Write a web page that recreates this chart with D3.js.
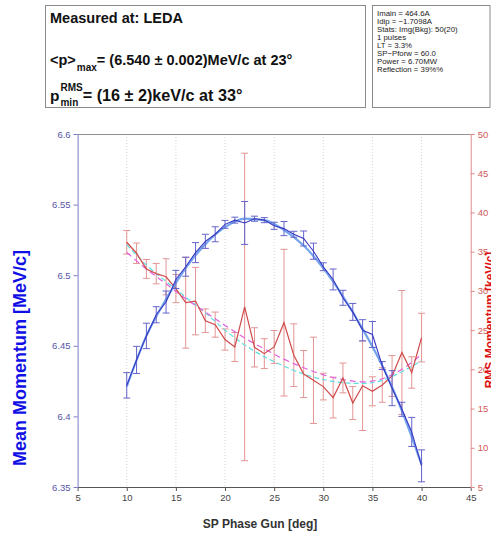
<!DOCTYPE html>
<html>
<head>
<meta charset="utf-8">
<script src="https://cdn.jsdelivr.net/npm/d3@7"></script>
<style>
  body { margin: 0; background: #fff; }
  svg { display: block; }
  text { font-family: "Liberation Sans", Arial, Helvetica, sans-serif; }
</style>
</head>
<body>
<svg id="chart" width="491" height="539"></svg>
<script>
// SP phase gun scan (deg)
const phase = [10, 11, 12, 13, 14, 15, 16, 17, 18, 19, 20, 21, 22, 23, 24, 25,
               26, 27, 28, 29, 30, 31, 32, 33, 34, 35, 36, 37, 38, 39, 40];

// Mean momentum [MeV/c] and its error
const meanP = [6.422, 6.440, 6.457, 6.472, 6.481, 6.497, 6.506, 6.516, 6.524, 6.529, 6.536,
               6.539, 6.537, 6.540, 6.539, 6.535, 6.533, 6.529, 6.526, 6.517, 6.506, 6.497,
               6.484, 6.474, 6.461, 6.458, 6.436, 6.420, 6.405, 6.389, 6.365];
const meanErr = [0.0090, 0.0096, 0.0090, 0.0057, 0.0078, 0.0064, 0.0067, 0.0071, 0.0050, 0.0053, 0.0028,
                 0.0021, 0.0152, 0.0018, 0.0018, 0.0025, 0.0050, 0.0021, 0.0053, 0.0057, 0.0028, 0.0074,
                 0.0053, 0.0060, 0.0075, 0.0092, 0.0028, 0.0124, 0.0050, 0.0103, 0.0113];

// RMS momentum [keV/c] and its error
const rmsP = [36.2, 34.8, 32.8, 32.2, 31.8, 30.3, 28.5, 28.7, 26.2, 25.7, 23.8,
              22.85, 27.95, 22.8, 22.0, 22.85, 25.95, 21.8, 19.4, 18.6, 17.8, 16.4,
              18.9, 15.7, 17.9, 17.2, 18.0, 19.15, 22.15, 19.6, 24.05];
const rmsErr = [1.5, 1.3, 1.2, 1.3, 2.3, 1.8, 5.8, 4.3, 1.5, 1.6, 1.35,
                1.85, 19.6, 2.5, 1.9, 2.1, 9.35, 4.0, 3.0, 5.5, 1.7, 2.6,
                1.9, 2.1, 5.7, 1.85, 2.2, 2.6, 7.9, 2.0, 3.1];

// Fitted curves
const fitPhase = [10, 12, 14, 16, 18, 20, 22, 24, 26, 28, 30, 32, 34, 36, 38, 40];
const meanFit = [6.421, 6.457, 6.483, 6.505, 6.522, 6.534, 6.540, 6.539,
                 6.532, 6.521, 6.505, 6.485, 6.462, 6.436, 6.404, 6.366];
const rmsFitA = [34.9, 32.8, 30.9, 29.0, 27.3, 25.6, 24.0, 22.6,
                 21.3, 20.2, 19.3, 18.7, 18.4, 18.8, 20.0, 21.9];
const rmsFitB = [35.9, 33.3, 31.2, 29.2, 27.2, 25.0, 23.1, 21.6,
                 20.4, 19.4, 18.7, 18.3, 18.2, 18.6, 19.7, 21.1];

// Axis ticks
const xTicks = [5, 10, 15, 20, 25, 30, 35, 40, 45];
const yLTicks = [6.35, 6.4, 6.45, 6.5, 6.55, 6.6];
const yRTicks = [5, 10, 15, 20, 25, 30, 35, 40, 45, 50];

// Info panel lines
const infoLines = ["Imain = 464.6A", "Idip = \u22121.7098A", "Stats: Img(Bkg): 50(20)", "1 pulses",
                   "LT = 3.3%", "SP\u2212Pforw = 60.0", "Power = 6.70MW", "Reflection = 39%%"];

const svg = d3.select("#chart");
const L = 77.6, R = 470.7, T = 134, B = 487;

const x = d3.scaleLinear().domain([5, 45]).range([L, R]);
const yL = d3.scaleLinear().domain([6.35, 6.6]).range([B, T]);
const yR = d3.scaleLinear().domain([5, 50]).range([B, T]);

// ---- header boxes ----
svg.append("rect").attr("x", 45.5).attr("y", 5.5).attr("width", 320).attr("height", 102)
  .attr("fill", "#fff").attr("stroke", "#8a8a8a").attr("stroke-width", 1);
svg.append("rect").attr("x", 372.5).attr("y", 5.5).attr("width", 117.5).attr("height", 102)
  .attr("fill", "#fff").attr("stroke", "#8a8a8a").attr("stroke-width", 1);

const F = 14.5, f = 10;
svg.append("text").attr("x", 50).attr("y", 23).attr("font-size", F).attr("font-weight", "bold")
  .attr("fill", "#111").text("Measured at: LEDA");

// <p>_max line
{
  const g = svg.append("g").attr("font-weight", "bold").attr("fill", "#111");
  const a = g.append("text").attr("x", 50).attr("y", 65).attr("font-size", F).text("<p>");
  const aw = a.node().getComputedTextLength();
  const s = g.append("text").attr("x", 50 + aw + 1).attr("y", 71).attr("font-size", f).text("max");
  const sw = s.node().getComputedTextLength();
  g.append("text").attr("x", 50 + aw + 1 + sw).attr("y", 65).attr("font-size", F)
    .text(" = (6.540 \u00B1 0.002)MeV/c at 23\u00B0");
}
// p^RMS_min line
{
  const g = svg.append("g").attr("font-weight", "bold").attr("fill", "#111");
  const a = g.append("text").attr("x", 50).attr("y", 101).attr("font-size", 15.5).text("p");
  const aw = a.node().getComputedTextLength();
  const s1 = g.append("text").attr("x", 50 + aw + 1).attr("y", 91).attr("font-size", f).text("RMS");
  const s2 = g.append("text").attr("x", 50 + aw + 1).attr("y", 106).attr("font-size", f).text("min");
  const sw = Math.max(s1.node().getComputedTextLength(), s2.node().getComputedTextLength());
  g.append("text").attr("x", 50 + aw + 1 + sw).attr("y", 101).attr("font-size", 16.2)
    .text(" = (16 \u00B1 2)keV/c at 33\u00B0");
}

svg.append("g").selectAll("text").data(infoLines).join("text")
  .attr("x", 377).attr("y", (d, i) => 15.6 + i * 8.0)
  .attr("font-size", 7.8).attr("fill", "#222").text(d => d);

// ---- grid ----
svg.append("g").selectAll("line").data(xTicks.slice(1, -1)).join("line")
  .attr("x1", d => x(d)).attr("x2", d => x(d)).attr("y1", T).attr("y2", B)
  .attr("stroke", "#c8c8c8").attr("stroke-width", 0.8).attr("stroke-dasharray", "1,2");

// top border
svg.append("line").attr("x1", L).attr("x2", R).attr("y1", T + 0.5).attr("y2", T + 0.5)
  .attr("stroke", "#909090").attr("stroke-width", 1);

// ---- axes ----
const axB = svg.append("g").attr("transform", `translate(0,${B})`)
  .call(d3.axisBottom(x).tickValues(xTicks).tickSize(4).tickSizeOuter(0).tickFormat(d3.format("d")));
axB.select(".domain").attr("stroke", "#555");
axB.selectAll(".tick line").attr("stroke", "#555");
axB.selectAll(".tick text").attr("font-size", 9.5).attr("fill", "#444").attr("font-family", null);

const axL = svg.append("g").attr("transform", `translate(${L},0)`)
  .call(d3.axisLeft(yL).tickValues(yLTicks).tickSize(4).tickSizeOuter(0).tickFormat(d => String(+d.toFixed(2))));
axL.select(".domain").attr("stroke", "#7a7ac8");
axL.selectAll(".tick line").attr("stroke", "#7a7ac8");
axL.selectAll(".tick text").attr("font-size", 9.5).attr("fill", "#5656a6").attr("font-family", null);

const axR = svg.append("g").attr("transform", `translate(${R},0)`)
  .call(d3.axisRight(yR).tickValues(yRTicks).tickSize(4).tickSizeOuter(0).tickFormat(d3.format("d")));
axR.select(".domain").attr("stroke", "#e08a8a");
axR.selectAll(".tick line").attr("stroke", "#e08a8a");
axR.selectAll(".tick text").attr("font-size", 9.5).attr("fill", "#d05a5a").attr("font-family", null);

// ---- axis titles ----
svg.append("text").attr("text-anchor", "middle")
  .attr("transform", "translate(26,358) rotate(-90)")
  .attr("font-size", 18).attr("font-weight", "bold").attr("fill", "#1010e6")
  .text("Mean Momentum [MeV/c]");
svg.append("text").attr("text-anchor", "middle")
  .attr("transform", "translate(493.5,320) rotate(-90)")
  .attr("font-size", 12).attr("font-weight", "bold").attr("fill", "#dd1010")
  .text("RMS Momentum [keV/c]");
svg.append("text").attr("text-anchor", "middle").attr("x", 260).attr("y", 528)
  .attr("font-size", 12).attr("font-weight", "bold").attr("fill", "#333")
  .text("SP Phase Gun [deg]");

// ---- marks ----
const plot = svg.append("g");
const cap = 3.5;

function errorBars(vals, errs, y, color) {
  const g = plot.append("g").attr("stroke", color).attr("stroke-width", 1).attr("fill", "none");
  phase.forEach((p, i) => {
    const px = x(p), top = y(vals[i] + errs[i]), bot = y(vals[i] - errs[i]);
    g.append("line").attr("x1", px).attr("x2", px).attr("y1", top).attr("y2", bot);
    g.append("line").attr("x1", px - cap).attr("x2", px + cap).attr("y1", top).attr("y2", top);
    g.append("line").attr("x1", px - cap).attr("x2", px + cap).attr("y1", bot).attr("y2", bot);
  });
}

// RMS series
errorBars(rmsP, rmsErr, yR, "#e49494");
const fitLine = (y) => d3.line().x((d, i) => x(fitPhase[i])).y(d => y(d)).curve(d3.curveMonotoneX);
plot.append("path").datum(rmsFitB).attr("d", fitLine(yR)).attr("fill", "none")
  .attr("stroke", "#5fdede").attr("stroke-width", 1.2).attr("stroke-dasharray", "5,3");
plot.append("path").datum(rmsFitA).attr("d", fitLine(yR)).attr("fill", "none")
  .attr("stroke", "#e060e0").attr("stroke-width", 1.2).attr("stroke-dasharray", "6,4");
plot.append("path").datum(rmsP)
  .attr("d", d3.line().x((d, i) => x(phase[i])).y(d => yR(d)))
  .attr("fill", "none").attr("stroke", "#d04a4a").attr("stroke-width", 1.2);

// Mean momentum series
plot.append("path").datum(meanFit).attr("d", fitLine(yL)).attr("fill", "none")
  .attr("stroke", "#74a4ee").attr("stroke-width", 2.2);
errorBars(meanP, meanErr, yL, "#6464cc");
plot.append("path").datum(meanP)
  .attr("d", d3.line().x((d, i) => x(phase[i])).y(d => yL(d)))
  .attr("fill", "none").attr("stroke", "#3838c0").attr("stroke-width", 1.1);
</script>
</body>
</html>
